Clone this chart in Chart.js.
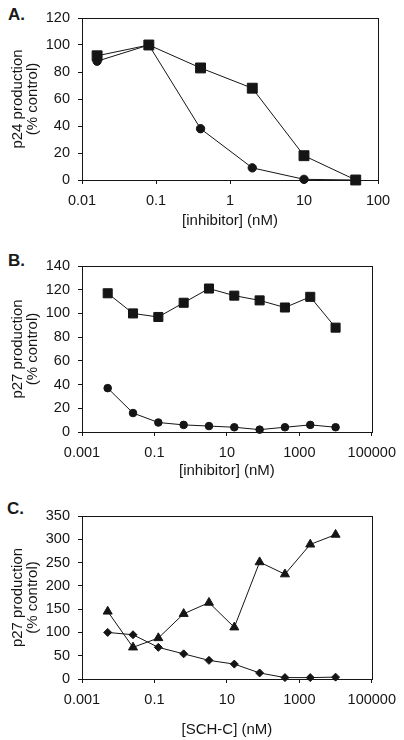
<!DOCTYPE html>
<html>
<head>
<meta charset="utf-8">
<script src="https://cdn.jsdelivr.net/npm/chart.js@4/dist/chart.umd.min.js"></script>
<style>
  html, body { margin: 0; padding: 0; background: #fff; }
  body { width: 404px; height: 740px; position: relative; overflow: hidden; font-family: "Liberation Sans", Arial, sans-serif; }
  .panel { position: absolute; left: 0; width: 404px; }
  .lab { position: absolute; font: bold 17px/17px "Liberation Sans", Arial, sans-serif; color: #1a1a1a; }
</style>
</head>
<body>
<div class="lab" style="left:8px;top:6px;">A.</div>
<div class="lab" style="left:8px;top:252px;">B.</div>
<div class="lab" style="left:7px;top:500px;">C.</div>
<div class="panel" style="top:0;height:245px;"><canvas id="cA" width="404" height="245"></canvas></div>
<div class="panel" style="top:245px;height:245px;"><canvas id="cB" width="404" height="245"></canvas></div>
<div class="panel" style="top:490px;height:250px;"><canvas id="cC" width="404" height="250"></canvas></div>
<script>
// ---- data ----
const aConc = [0.016, 0.08, 0.4, 2, 10, 50];
const aSquares = [92, 100, 83, 68, 18, 0];
const aCircles = [88, 100, 38, 9, 0.5, 0];

const bcConc = [0.00512, 0.0256, 0.128, 0.64, 3.2, 16, 80, 400, 2000, 10000];
const bSquares = [117, 100, 97, 109, 121, 115, 111, 105, 114, 88];
const bCircles = [37, 16, 8, 6, 5, 4, 2, 4, 6, 4];
const cTriangles = [145, 68, 88, 140, 164, 111, 251, 225, 289, 310];
const cDiamonds = [100, 95, 68, 54, 40, 32, 13, 3, 3, 4];

const aXTicks = [0.01, 0.1, 1, 10, 100];
const bcXTicks = [0.001, 0.1, 10, 1000, 100000];
const aYTitle = ["p24 production", "(% control)"];
const bYTitle = ["p27 production", "(% control)"];
const cYTitle = ["p27 production", "(% control)"];
const aXTitle = "[inhibitor] (nM)";
const bXTitle = "[inhibitor] (nM)";
const cXTitle = "[SCH-C] (nM)";

// ---- styling ----
const INK = '#151515';
const FONT = '"Liberation Sans", Arial, sans-serif';

const framePlugin = {
  id: 'frame',
  beforeDatasetsDraw(chart) {
    const { ctx, chartArea: { left, top, right, bottom } } = chart;
    ctx.save();
    ctx.strokeStyle = INK;
    ctx.lineWidth = 1;
    const l = Math.round(left) + 0.5, t = Math.round(top) + 0.5;
    const r = Math.round(right) + 0.5, b = Math.round(bottom) + 0.5;
    ctx.strokeRect(l, t, r - l, b - t);
    ctx.restore();
  }
};

function pts(xs, ys) { return xs.map((x, i) => ({ x: x, y: ys[i] })); }

function ds(xs, ys, style, radius) {
  return {
    data: pts(xs, ys),
    showLine: true,
    borderColor: INK,
    borderWidth: 1,
    backgroundColor: INK,
    pointStyle: style,
    pointRadius: radius,
    pointBorderWidth: 1,
    pointBorderColor: INK,
    pointBackgroundColor: INK,
    clip: false
  };
}

function makeChart(id, cfg) {
  return new Chart(document.getElementById(id), {
    type: 'scatter',
    data: { datasets: cfg.datasets },
    plugins: [framePlugin],
    options: {
      responsive: false,
      animation: false,
      devicePixelRatio: 1,
      layout: { padding: { left: 0, right: cfg.padRight, top: cfg.padTop, bottom: 0 } },
      plugins: { legend: { display: false }, tooltip: { enabled: false } },
      scales: {
        x: {
          type: 'logarithmic',
          min: cfg.xTicks[0],
          max: cfg.xTicks[cfg.xTicks.length - 1],
          afterBuildTicks: (s) => { s.ticks = cfg.xTicks.map(v => ({ value: v })); },
          afterFit: (s) => { s.height = cfg.xHeight; },
          grid: { drawOnChartArea: false, drawTicks: true, tickLength: 4, color: INK },
          border: { display: true, color: INK, width: 1 },
          ticks: {
            color: INK, padding: 8, maxRotation: 0, autoSkip: false,
            font: { family: FONT, size: 14.5 },
            callback: (v) => String(v)
          },
          title: {
            display: true, text: cfg.xTitle, color: INK,
            font: { family: FONT, size: 15, lineHeight: 1.2 },
            padding: { top: 0, bottom: cfg.xTitlePad }
          }
        },
        y: {
          min: 0, max: cfg.yMax,
          afterFit: (s) => { s.width = 82; },
          grid: { drawOnChartArea: false, drawTicks: true, tickLength: 4, color: INK },
          border: { display: true, color: INK, width: 1 },
          ticks: {
            color: INK, padding: 8, stepSize: cfg.yStep,
            font: { family: FONT, size: 14.5 }
          },
          title: {
            display: true, text: cfg.yTitle, color: INK,
            font: { family: FONT, size: 15, lineHeight: 1.0 },
            padding: { top: 10.5, bottom: 0 }
          }
        }
      }
    }
  });
}

makeChart('cA', {
  datasets: [ds(aConc, aCircles, 'circle', 4.2), ds(aConc, aSquares, 'rect', 7)],
  xTicks: aXTicks, xTitle: aXTitle, yTitle: aYTitle,
  yMax: 120, yStep: 20, padTop: 18, padRight: 26, xHeight: 65, xTitlePad: 15
});
makeChart('cB', {
  datasets: [ds(bcConc, bSquares, 'rect', 6.4), ds(bcConc, bCircles, 'circle', 3.8)],
  xTicks: bcXTicks, xTitle: bXTitle, yTitle: bYTitle,
  yMax: 140, yStep: 20, padTop: 21, padRight: 27, xHeight: 58, xTitlePad: 10
});
makeChart('cC', {
  datasets: [ds(bcConc, cDiamonds, 'rectRot', 4), ds(bcConc, cTriangles, 'triangle', 5.2)],
  xTicks: bcXTicks, xTitle: cXTitle, yTitle: cYTitle,
  yMax: 350, yStep: 50, padTop: 26, padRight: 27, xHeight: 61, xTitlePad: 1
});
</script>
</body>
</html>
